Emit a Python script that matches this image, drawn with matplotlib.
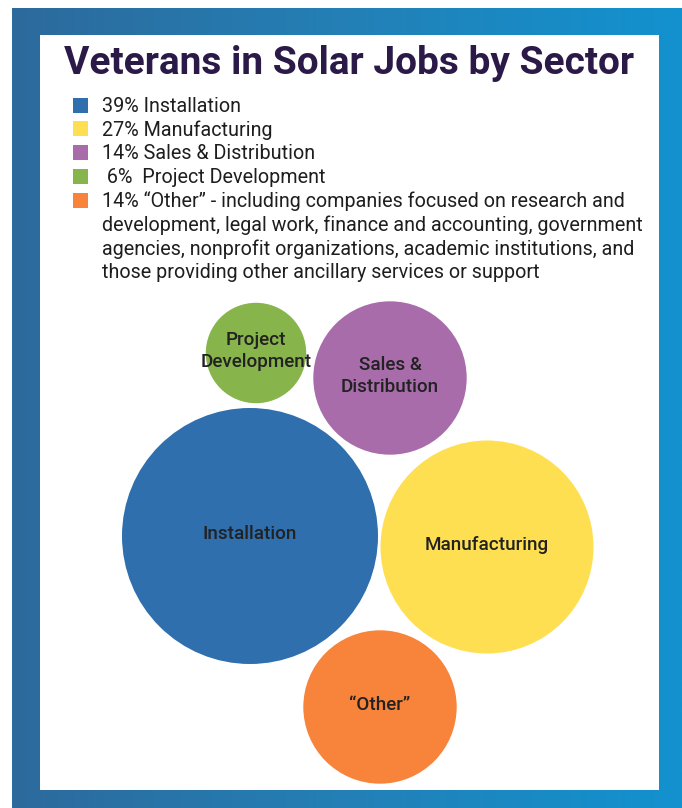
import numpy as np
import matplotlib
matplotlib.use("Agg")
import matplotlib.pyplot as plt
from matplotlib.patches import Rectangle, Circle
from matplotlib.colors import LinearSegmentedColormap

# data
sectors = ["Installation", "Manufacturing", "Sales & Distribution", "Project Development", "\u201cOther\u201d"]
shares = [39, 27, 14, 6, 14]
colors = ["#2F6FAE", "#FFDF52", "#A96CAB", "#88B44C", "#F7843A"]
bubble_labels = ["Installation", "Manufacturing", "Sales &\nDistribution", "Project\nDevelopment", "\u201cOther\u201d"]
bubble_x = [250, 487, 390, 256, 380]
bubble_y = [536, 547, 378, 353, 707]
legend_lines = [
    ["39% Installation"],
    ["27% Manufacturing"],
    ["14% Sales & Distribution"],
    [" 6%  Project Development"],
    ["14% \u201cOther\u201d - including companies focused on research and",
     "development, legal work, finance and accounting, government",
     "agencies, nonprofit organizations, academic institutions, and",
     "those providing other ancillary services or support"],
]

W, H = 682, 808
fig = plt.figure(figsize=(W / 100, H / 100), dpi=100)
ax = fig.add_axes([0, 0, 1, 1])
ax.set_xlim(0, W)
ax.set_ylim(H, 0)
ax.axis("off")

# blue gradient frame
grad = np.linspace(0, 1, 256)[None, :]
cmap = LinearSegmentedColormap.from_list("frame", ["#2D6A9C", "#2380B6", "#1292CF"])
ax.imshow(grad, cmap=cmap, extent=[12, W, H, 8], aspect="auto", zorder=0)

# white panel
ax.add_patch(Rectangle((40, 35), 619, 755, facecolor="white", edgecolor="none", zorder=1))

# title
ax.text(349, 63, "Veterans in Solar Jobs by Sector", ha="center", va="center",
        fontsize=28, fontweight="bold", color="#2B1A47", family="Roboto", zorder=3)

# legend
y = 105
step = 23.8
for lines, c in zip(legend_lines, colors):
    ax.add_patch(Rectangle((73, y - 7.5), 15, 15, facecolor=c, edgecolor="none", zorder=2))
    for line in lines:
        ax.text(102, y + 1, line, ha="left", va="center", fontsize=14.2, color="#1E1E1E",
                family="Roboto", zorder=3)
        y += step

# bubbles, area proportional to share
r_max = 128
for x, yc, s, c, lab in zip(bubble_x, bubble_y, shares, colors, bubble_labels):
    r = r_max * np.sqrt(s / max(shares))
    ax.add_patch(Circle((x, yc), r, facecolor=c, edgecolor="none", zorder=2))
    ax.text(x, yc - 2, lab, ha="center", va="center", fontsize=13.6, fontweight="medium",
            color="#222222", family="Roboto", linespacing=1.22, zorder=3)

fig.savefig("out.png", dpi=100)
